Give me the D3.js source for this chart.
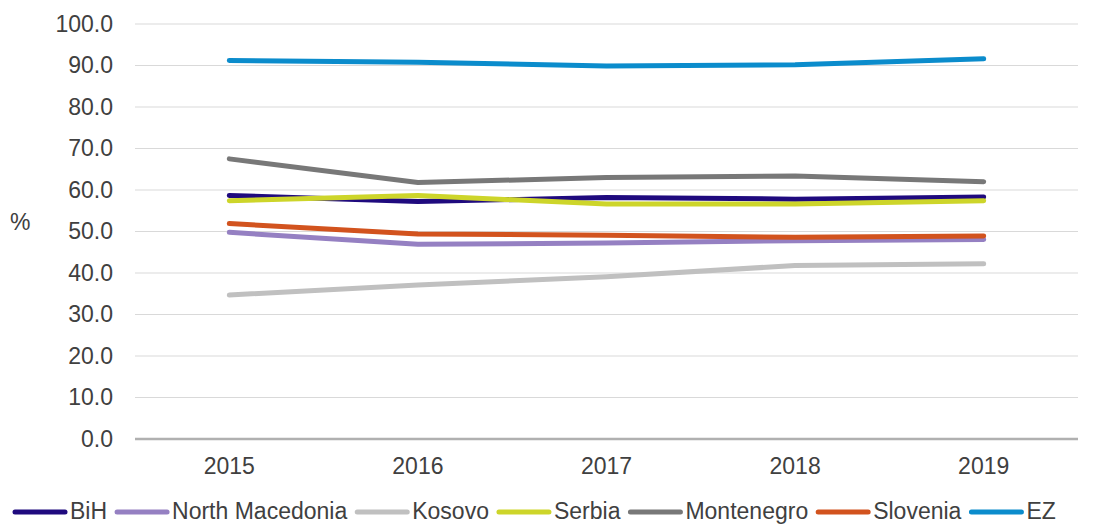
<!DOCTYPE html>
<html><head><meta charset="utf-8">
<script src="https://cdn.jsdelivr.net/npm/d3@7"></script>
<style>body{margin:0;background:#fff}text{font-family:"Liberation Sans",Arial,sans-serif;fill:#404040}</style>
</head><body><svg id="c" width="1101" height="524"></svg>
<script>
const years = ["2015","2016","2017","2018","2019"];
const seriesNames = ["BiH","North Macedonia","Kosovo","Serbia","Montenegro","Slovenia","EZ"];
const seriesColors = ["#1f0a7e","#9580c2","#c0c0c0","#cdd52a","#787878","#d2531e","#0b8ccc"];
const BiH = [58.7,57.2,58.2,57.8,58.3];
const NorthMacedonia = [49.8,46.9,47.2,47.8,48.1];
const Kosovo = [34.7,37.1,39.1,41.8,42.2];
const Serbia = [57.4,58.7,56.6,56.6,57.4];
const Montenegro = [67.5,61.8,63.0,63.4,62.0];
const Slovenia = [51.9,49.4,49.1,48.6,48.9];
const EZ = [91.2,90.8,89.9,90.2,91.6];
const yTicks = [0,10,20,30,40,50,60,70,80,90,100];
const values = [BiH,NorthMacedonia,Kosovo,Serbia,Montenegro,Slovenia,EZ];

const FS = 23;
const svg = d3.select("#c");
const L=135,R=1078,T=24,B=439;
const x = d3.scaleBand().domain(years).range([L,R]);
const y = d3.scaleLinear().domain([0,100]).range([B,T]);

svg.append("g").selectAll("line").data(yTicks.filter(d=>d>0)).join("line")
  .attr("x1",L).attr("x2",R).attr("y1",d=>y(d)).attr("y2",d=>y(d))
  .attr("stroke","#d9d9d9").attr("stroke-width",1);

const ya = svg.append("g").attr("transform",`translate(${L},0)`)
  .call(d3.axisLeft(y).tickValues(yTicks).tickFormat(d3.format(".1f")).tickSize(0).tickPadding(22));
ya.select(".domain").remove();
ya.selectAll("text").attr("font-size",FS).attr("font-family","Liberation Sans, Arial, sans-serif").attr("fill","#404040");

svg.append("line").attr("x1",L).attr("x2",R).attr("y1",B).attr("y2",B).attr("stroke","#b0b0b0").attr("stroke-width",2.5);

const xa = svg.append("g").attr("transform",`translate(0,${B})`)
  .call(d3.axisBottom(x).tickSize(0).tickPadding(19));
xa.select(".domain").remove();
xa.selectAll("text").attr("font-size",FS).attr("font-family","Liberation Sans, Arial, sans-serif").attr("fill","#404040");

svg.append("text").attr("x",10).attr("y",230).attr("font-size",FS).text("%");

const line = d3.line().x((d,i)=>x(years[i])+x.bandwidth()/2).y(d=>y(d));
values.forEach((v,i)=>{
  svg.append("path").attr("d",line(v)).attr("fill","none").attr("stroke",seriesColors[i])
    .attr("stroke-width",5).attr("stroke-linecap","round").attr("stroke-linejoin","round");
});

// legend
const lg = svg.append("g");
let cx = 15; const ly = 512;
seriesNames.forEach((n,i)=>{
  lg.append("line").attr("x1",cx).attr("x2",cx+50).attr("y1",ly).attr("y2",ly)
    .attr("stroke",seriesColors[i]).attr("stroke-width",5).attr("stroke-linecap","round");
  const t = lg.append("text").attr("x",cx+55).attr("y",ly+7).attr("font-size",FS).text(n);
  cx = cx+55+t.node().getComputedTextLength()+10;
});
</script></body></html>
